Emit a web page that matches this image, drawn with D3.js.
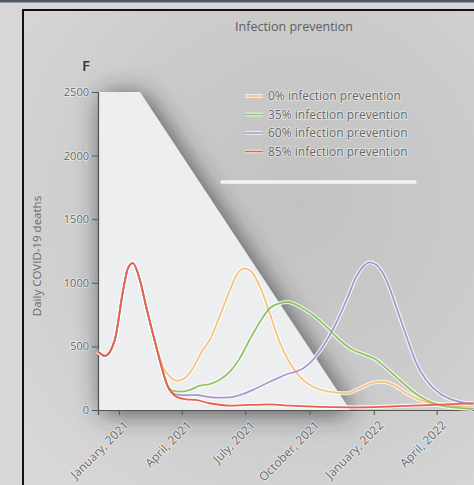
<!DOCTYPE html>
<html>
<head>
<meta charset="utf-8">
<script src="https://cdn.jsdelivr.net/npm/d3@7"></script>
<style>
  html, body { margin: 0; padding: 0; background: #d4d4d4; }
  svg { display: block; }
  text { font-family: "Open Sans", "DejaVu Sans", sans-serif; }
</style>
</head>
<body>
<svg id="chart" width="474" height="485"></svg>
<script>
// Daily COVID-19 deaths under four infection-prevention scenarios
const seriesNames = ["0% infection prevention", "35% infection prevention", "60% infection prevention", "85% infection prevention"];
const seriesColors = ["#f6c27e", "#8fc565", "#ab96cf", "#e9604b"];

const yTicks = [0, 500, 1000, 1500, 2000, 2500];
const xTickDates = ["2021-01-01", "2021-04-01", "2021-07-01", "2021-10-01", "2022-01-01", "2022-04-01"];

// shared winter wave before the scenarios separate
const commonWave = [
  ["2020-12-02", 460], ["2020-12-12", 425], ["2020-12-26", 550], ["2021-01-07", 943],
  ["2021-01-14", 1116], ["2021-01-21", 1155], ["2021-01-31", 1022], ["2021-02-09", 812],
  ["2021-02-21", 550]
];

const prevention0 = [
  ["2021-02-24", 498], ["2021-03-05", 340], ["2021-03-15", 262], ["2021-03-25", 230],
  ["2021-04-05", 249], ["2021-04-17", 328], ["2021-05-01", 472], ["2021-05-11", 550],
  ["2021-05-25", 734], ["2021-06-09", 943], ["2021-06-20", 1075], ["2021-06-30", 1114],
  ["2021-07-10", 1087], ["2021-07-22", 969], ["2021-08-05", 760], ["2021-08-19", 535],
  ["2021-09-03", 367], ["2021-09-17", 262], ["2021-10-06", 183], ["2021-10-30", 144],
  ["2021-11-23", 131], ["2021-12-12", 171], ["2021-12-31", 215], ["2022-01-14", 222],
  ["2022-01-29", 197], ["2022-02-17", 131], ["2022-03-08", 79], ["2022-04-01", 47],
  ["2022-04-24", 31], ["2022-05-23", 26]
];

const prevention35 = [
  ["2021-03-03", 340], ["2021-03-12", 190], ["2021-03-19", 152], ["2021-03-31", 144],
  ["2021-04-12", 157], ["2021-04-27", 191], ["2021-05-11", 204], ["2021-05-25", 236],
  ["2021-06-09", 301], ["2021-06-23", 406], ["2021-07-07", 550], ["2021-07-22", 694],
  ["2021-08-05", 800], ["2021-08-19", 839], ["2021-08-31", 849], ["2021-09-17", 812],
  ["2021-10-06", 747], ["2021-10-25", 655], ["2021-11-13", 550], ["2021-12-02", 472],
  ["2021-12-21", 432], ["2022-01-05", 393], ["2022-01-19", 328], ["2022-02-07", 236],
  ["2022-02-26", 144], ["2022-03-17", 79], ["2022-04-05", 39], ["2022-04-29", 18],
  ["2022-05-23", 8]
];

const prevention60 = [
  ["2021-03-03", 340], ["2021-03-12", 183], ["2021-03-24", 123], ["2021-04-08", 116],
  ["2021-04-22", 118], ["2021-05-06", 105], ["2021-05-21", 97], ["2021-06-09", 100],
  ["2021-06-28", 126], ["2021-07-17", 171], ["2021-08-05", 222], ["2021-08-19", 257],
  ["2021-09-03", 289], ["2021-09-12", 301], ["2021-10-01", 367], ["2021-10-20", 498],
  ["2021-11-08", 682], ["2021-11-23", 865], ["2021-12-07", 1048], ["2021-12-19", 1140],
  ["2021-12-26", 1161], ["2022-01-05", 1140], ["2022-01-19", 1022], ["2022-02-02", 812],
  ["2022-02-17", 576], ["2022-03-03", 367], ["2022-03-17", 236], ["2022-04-05", 131],
  ["2022-04-24", 79], ["2022-05-13", 53], ["2022-05-23", 47]
];

const prevention85 = [
  ["2021-03-03", 340], ["2021-03-12", 183], ["2021-03-24", 105], ["2021-04-07", 84],
  ["2021-04-21", 79], ["2021-05-11", 53], ["2021-06-09", 34], ["2021-08-05", 45],
  ["2021-09-03", 34], ["2021-11-28", 21], ["2022-03-18", 39], ["2022-05-24", 53]
];

const parse = d3.utcParse("%Y-%m-%d");
const toPoints = arr => arr.map(([d, v]) => ({ date: parse(d), value: v }));
const series = [
  commonWave.concat(prevention0),
  commonWave.concat(prevention35),
  commonWave.concat(prevention60),
  commonWave.concat(prevention85)
].map(toPoints);

const svg = d3.select("#chart");
const defs = svg.append("defs");

// page backdrop
svg.append("rect").attr("width", 474).attr("height", 485).attr("fill", "#d7d7d7");
svg.append("rect").attr("width", 474).attr("height", 2.5).attr("fill", "#4d5863");

const bg = defs.append("radialGradient").attr("id", "panelBg")
  .attr("cx", "0.6").attr("cy", "0.4").attr("r", "0.8");
bg.append("stop").attr("offset", "0").attr("stop-color", "#c2c2c2");
bg.append("stop").attr("offset", "0.5").attr("stop-color", "#cbcbcb");
bg.append("stop").attr("offset", "1").attr("stop-color", "#d8d8d8");

svg.append("rect").attr("x", 23).attr("y", 10).attr("width", 460).attr("height", 480)
  .attr("fill", "url(#panelBg)").attr("stroke", "#111").attr("stroke-width", 2);

const shadow = defs.append("filter").attr("id", "shade")
  .attr("x", "-40%").attr("y", "-40%").attr("width", "180%").attr("height", "180%");
shadow.append("feDropShadow").attr("dx", 4).attr("dy", 3).attr("stdDeviation", 13)
  .attr("flood-color", "#2e2e2e").attr("flood-opacity", 0.8);

const halo = defs.append("filter").attr("id", "glow");
halo.append("feGaussianBlur").attr("stdDeviation", 0.6);

// scales
const x = d3.scaleUtc().domain([parse("2020-12-02"), parse("2022-06-15")]).range([98, 489]);
const y = d3.scaleLinear().domain([0, 2500]).range([410, 92]);

// light plot panel
const panel = [[x.domain()[0], 2500], [parse("2021-01-31"), 2500], [parse("2021-11-28"), 0], [x.domain()[0], 0]];
svg.append("path")
  .attr("d", d3.line().x(d => x(d[0])).y(d => y(d[1]))(panel) + "Z")
  .attr("fill", "#eceef0")
  .attr("filter", "url(#shade)");

// white rule
svg.append("line").attr("x1", 222).attr("x2", 415).attr("y1", 182).attr("y2", 182)
  .attr("stroke", "#f4f4f4").attr("stroke-width", 3.5).attr("stroke-linecap", "round");

// title and panel letter
svg.append("text").attr("x", 294).attr("y", 31).attr("text-anchor", "middle")
  .attr("font-size", 12.5).attr("fill", "#5e5e5e").text("Infection prevention");
svg.append("text").attr("x", 86).attr("y", 71).attr("text-anchor", "middle")
  .attr("font-size", 15).attr("font-weight", 600).attr("fill", "#333").text("F");

const textHalo = sel => sel.attr("stroke", "#ffffff").attr("stroke-width", 1.6)
  .attr("stroke-opacity", 0.55).attr("paint-order", "stroke");

// y axis
const yAxis = svg.append("g").attr("transform", "translate(98,0)")
  .call(d3.axisLeft(y).tickValues(yTicks).tickSize(6).tickPadding(3).tickFormat(d3.format("d")));
yAxis.select(".domain").attr("stroke", "#555").attr("stroke-width", 1.2);
yAxis.selectAll(".tick line").attr("stroke", "#555");
yAxis.selectAll(".tick text").attr("font-size", 11).attr("fill", "#666")
  .style("font-family", "'Open Sans', sans-serif").call(textHalo);

svg.append("text").attr("transform", "translate(41,256) rotate(-90)")
  .attr("text-anchor", "middle").attr("font-size", 11.5).attr("fill", "#6a6a6a")
  .text("Daily COVID-19 deaths");

// x axis
const xAxis = svg.append("g").attr("transform", "translate(0,410)")
  .call(d3.axisBottom(x).tickValues(xTickDates.map(parse)).tickSize(5)
    .tickFormat(d3.utcFormat("%B, %Y")));
xAxis.select(".domain").attr("stroke", "#555").attr("stroke-width", 1.2);
xAxis.selectAll(".tick line").attr("stroke", "#555");
xAxis.selectAll(".tick text")
  .attr("font-size", 12).attr("fill", "#666")
  .style("font-family", "'Open Sans', sans-serif")
  .attr("text-anchor", "end")
  .attr("x", 0).attr("y", 0).attr("dy", "0.35em")
  .attr("transform", "translate(7,13) rotate(-45)")
  .call(textHalo);

// curves
const line = d3.line().x(d => x(d.date)).y(d => y(d.value)).curve(d3.curveMonotoneX);
const order = [0, 1, 2, 3];
const curves = svg.append("g");
order.forEach(i => {
  curves.append("path").attr("d", line(series[i])).attr("fill", "none")
    .attr("stroke", "#ffffff").attr("stroke-opacity", 0.8).attr("stroke-width", 4)
    .attr("filter", "url(#glow)");
});
order.forEach(i => {
  curves.append("path").attr("d", line(series[i])).attr("fill", "none")
    .attr("stroke", seriesColors[i]).attr("stroke-width", 1.8);
});

// legend
const legend = svg.append("g").attr("transform", "translate(245,96)");
seriesNames.forEach((name, i) => {
  const row = legend.append("g").attr("transform", `translate(0,${i * 18.5})`);
  row.append("line").attr("x1", 0).attr("x2", 18).attr("stroke", "#fff")
    .attr("stroke-width", 3.6).attr("stroke-opacity", 0.8);
  row.append("line").attr("x1", 0).attr("x2", 18).attr("stroke", seriesColors[i])
    .attr("stroke-width", 1.6);
  row.append("text").attr("x", 23).attr("dy", "0.35em").attr("font-size", 12)
    .attr("fill", "#666").text(name).call(textHalo);
});
</script>
</body>
</html>
